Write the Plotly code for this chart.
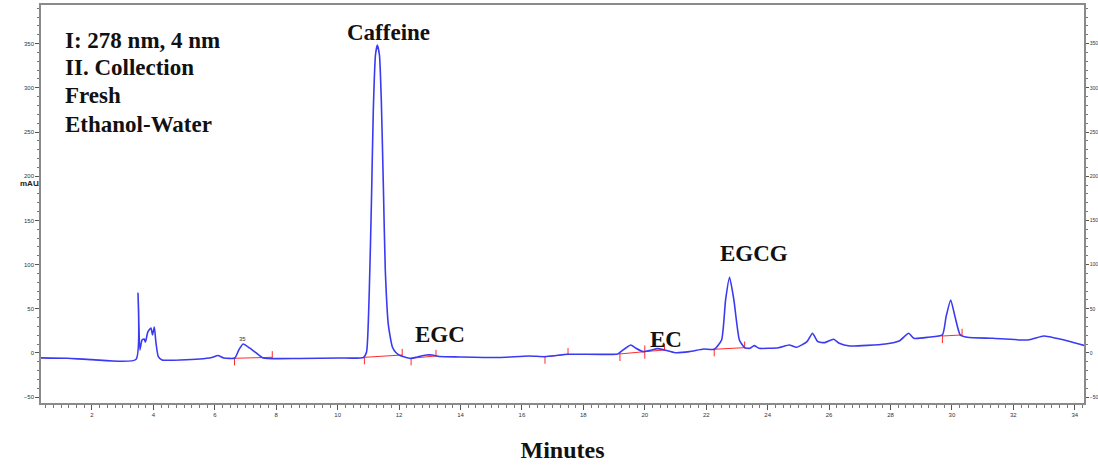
import plotly.graph_objects as go

# ---- chromatogram (minutes, mAU) ----
time_min = [0.30, 1.20, 2.00, 3.43, 3.50, 3.56, 3.63, 3.70, 3.74, 3.82, 3.92, 3.97, 4.03, 4.08, 4.16, 4.28,
            5.51, 5.90, 6.10, 6.29, 6.65, 6.78, 6.92, 7.13, 7.35, 7.57, 8.76, 10.06, 10.84, 10.94,
            11.03, 11.10, 11.16, 11.23, 11.29, 11.36, 11.42, 11.49, 11.55, 11.65, 11.78, 11.91, 12.07,
            12.39, 12.59, 12.88, 13.08, 13.31, 13.96, 15.26, 16.23, 16.75, 17.50, 19.12, 19.22, 19.54,
            19.71, 19.94, 20.23, 20.41, 20.64, 20.99, 21.45, 21.92, 22.26, 22.50, 22.63, 22.76, 22.90,
            23.08, 23.25, 23.42, 23.56, 23.72, 24.35, 24.70, 24.94, 25.28, 25.46, 25.63, 25.86, 26.15,
            26.33, 26.67, 27.83, 28.30, 28.59, 28.76, 29.23, 29.69, 29.81, 29.96, 30.10, 30.27, 30.50,
            31.32, 32.47, 32.99, 33.40, 33.87, 34.30]
signal_mau = [-5.5, -6.0, -7.5, -7.4, 67.9, 3.4, 14.7, 15.8, 12.4, 23.8, 28.3, 20.4, 29.4, 12.4, -4.2, -7.9,
              -6.8, -5.1, -2.8, -5.7, -5.7, 3.4, 10.2, 5.7, 0.0, -5.7, -6.2, -5.7, -5.1, 1.1,
              71.3, 173.1, 274.9, 337.1, 348.5, 337.1, 286.2, 184.4, 93.9, 31.7, 6.8, 0.0, -3.4,
              -6.2, -4.5, -2.3, -2.3, -4.0, -4.5, -5.1, -3.4, -4.2, -1.5, -1.1, 1.5, 9.1,
              5.3, 1.5, 3.4, 4.9, 3.4, 0.3, 1.5, 4.5, 4.2, 14.7, 60.0, 85.6, 60.0,
              14.7, 6.0, 5.3, 8.3, 5.3, 6.0, 9.1, 6.4, 12.8, 22.3, 12.8, 11.7, 15.5,
              11.0, 7.9, 10.2, 13.9, 22.3, 16.6, 17.8, 20.4, 41.1, 60.0, 41.1, 20.4, 17.8,
              16.6, 14.7, 19.2, 16.6, 12.8, 8.6]

# ---- integration baselines (start t, start v, end t, end v) ----
base_t0 = [6.64, 10.87, 12.39, 16.75, 19.19, 20.00, 22.26, 29.69]
base_v0 = [-6.0, -4.9, -6.0, -4.2, -1.1, 1.5, 4.2, 19.2]
base_t1 = [7.87, 12.10, 13.20, 17.50, 20.00, 20.64, 23.25, 30.33]
base_v1 = [-4.9, -2.3, -3.4, -1.5, 1.5, 3.4, 6.0, 20.4]

# ---- peak labels ----
peak_names = ["Caffeine", "EGC", "EC", "EGCG"]
peak_label_t = [11.65, 13.34, 20.68, 23.57]
peak_label_v = [363.0, 20.4, 14.7, 113.0]

x_ticks = list(range(2, 35, 2))
y_ticks = list(range(-50, 351, 50))
x_range = [0.34, 34.3]
y_range = [-56.6, 393.7]

info_lines = ["I: 278 nm, 4 nm", "II. Collection", "Fresh", "Ethanol-Water"]

fig = go.Figure()

# red integration baselines with tick marks
bx, by = [], []
for t0, v0, t1, v1 in zip(base_t0, base_v0, base_t1, base_v1):
    bx += [t0, t1, None, t0, t0, None, t1, t1, None]
    by += [v0, v1, None, v0 + 1, v0 - 8, None, v1 - 1, v1 + 7, None]
fig.add_trace(go.Scatter(x=bx, y=by, mode="lines",
                         line=dict(color="#ff2a2a", width=1), hoverinfo="skip",
                         showlegend=False))

fig.add_trace(go.Scatter(x=time_min, y=signal_mau, mode="lines",
                         line=dict(color="#3a3af2", width=1.6, shape="spline", smoothing=0.5),
                         showlegend=False))

# dummy trace for the right axis
fig.add_trace(go.Scatter(x=[None], y=[None], yaxis="y2", showlegend=False))

serif = "Liberation Serif, Times New Roman, serif"
for name, t, v in zip(peak_names, peak_label_t, peak_label_v):
    fig.add_annotation(x=t, y=v, text=f"<b>{name}</b>", showarrow=False,
                       font=dict(family=serif, size=23, color="#111"),
                       xanchor="center", yanchor="middle")

# info block, one line per annotation (28 px line spacing inside 398 px plot height)
plot_h = 398.0
for i, line in enumerate(info_lines):
    fig.add_annotation(xref="paper", yref="paper", x=0.021, y=1 - (35 + 28 * i) / plot_h,
                       text=f"<b>{line}</b>", showarrow=False, align="left",
                       xanchor="left", yanchor="middle",
                       font=dict(family=serif, size=23, color="#111"))

fig.add_annotation(xref="paper", yref="y", x=-0.022, y=192,
                   text="<b>mAU</b>", showarrow=False,
                   font=dict(family="Liberation Sans, Arial", size=8, color="#222"))

fig.add_annotation(x=6.9, y=16, text="35", showarrow=False,
                   font=dict(family="Liberation Sans, Arial", size=6, color="#333"))

tickfont = dict(family="Liberation Sans, Arial", size=6, color="#333")
tickfont_r = dict(family="Liberation Sans, Arial", size=5, color="#333")
axcol = "#8a8a8a"

fig.update_layout(
    width=1098, height=468,
    margin=dict(l=41, r=14, t=5, b=65, autoexpand=False),
    paper_bgcolor="white", plot_bgcolor="white",
    xaxis=dict(range=x_range, tickvals=x_ticks, ticks="outside", ticklen=5, tickwidth=1,
               tickcolor="#555", showgrid=False, zeroline=False, showline=True, automargin=False,
               linecolor=axcol, linewidth=1.5, mirror=True, tickfont=tickfont,
               minor=dict(ticks="outside", ticklen=3, dtick=0.25, tickcolor="#777", showgrid=False),
               title=dict(text="<b>Minutes</b>", font=dict(family=serif, size=24, color="#111"),
                          standoff=24)),
    yaxis=dict(range=y_range, tickvals=y_ticks, ticks="outside", ticklen=4, tickwidth=1,
               tickcolor="#555", showgrid=False, zeroline=False, showline=True, automargin=False,
               linecolor=axcol, linewidth=1.5, tickfont=tickfont,
               minor=dict(ticks="outside", ticklen=2, dtick=10, tickcolor="#777", showgrid=False)),
    yaxis2=dict(range=y_range, tickvals=y_ticks, overlaying="y", side="right", ticks="outside",
                ticklen=3, tickwidth=1, tickcolor="#555", showgrid=False, zeroline=False,
                ticklabelstandoff=0,
                showline=True, automargin=False, linecolor=axcol, linewidth=1.5, tickfont=tickfont_r,
                minor=dict(ticks="outside", ticklen=2, dtick=10, tickcolor="#777", showgrid=False)),
)

fig.write_html("out.html")
